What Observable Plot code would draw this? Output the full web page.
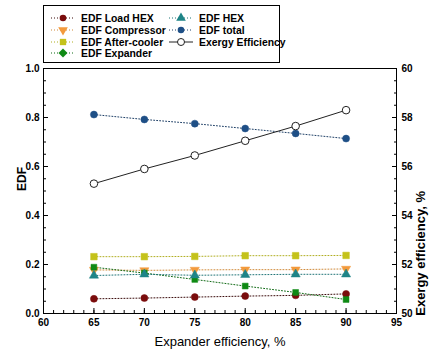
<!DOCTYPE html>
<html><head><meta charset="utf-8">
<script src="https://cdn.jsdelivr.net/npm/d3@7"></script>
<script src="https://cdn.jsdelivr.net/npm/@observablehq/plot@0.6"></script>
<style>
body{margin:0;background:#fff;font-family:"Liberation Sans",Arial,sans-serif}
#wrap{position:relative;width:440px;height:356px}
#legend{position:absolute;left:43px;top:5px;width:237px;height:58px;border:1px solid #000;box-sizing:border-box;background:#fff}
.item{position:absolute;font-size:10.4px;font-weight:bold;display:flex;align-items:center;height:12px;white-space:nowrap}
.item svg{margin-right:5px}
</style>
</head><body><div id="wrap"><div id="legend"></div></div>
<script>
const efficiency = [65, 70, 75, 80, 85, 90];
const edfLoadHex = [0.060, 0.063, 0.067, 0.071, 0.074, 0.080];
const edfCompressor = [0.178, 0.176, 0.178, 0.179, 0.179, 0.182];
const edfAfterCooler = [0.232, 0.232, 0.233, 0.236, 0.236, 0.237];
const edfExpander = [0.189, 0.165, 0.139, 0.112, 0.086, 0.057];
const edfHex = [0.155, 0.160, 0.156, 0.158, 0.160, 0.160];
const edfTotal = [0.812, 0.792, 0.775, 0.755, 0.735, 0.714];
const exergyEfficiency = [55.3, 55.9, 56.45, 57.05, 57.65, 58.3];

const xTicks = [60, 65, 70, 75, 80, 85, 90, 95];
const edfTicks = [0, 0.2, 0.4, 0.6, 0.8, 1.0];
const exergyTicks = [50, 52, 54, 56, 58, 60];

const series = [
  {name: "EDF Load HEX", values: edfLoadHex, color: "#7a0c0c", line: "#3a0a0a", symbol: "circle", rotate: 0, r: 3.5},
  {name: "EDF Compressor", values: edfCompressor, color: "#f39a3c", line: "#d08a3a", symbol: "triangle", rotate: 180, r: 3.4},
  {name: "EDF After-cooler", values: edfAfterCooler, color: "#c4c21a", line: "#b0ae20", symbol: "square", rotate: 0, r: 3.7},
  {name: "EDF Expander", values: edfExpander, color: "#0f8a14", line: "#0f6a14", symbol: "diamond2", rotate: 45, r: 3.7},
  {name: "EDF HEX", values: edfHex, color: "#1e8487", line: "#1e7477", symbol: "triangle", rotate: 0, r: 3.4},
  {name: "EDF total", values: edfTotal, color: "#1e4f86", line: "#1e3f66", symbol: "circle", rotate: 0, r: 3.5}
];

// map exergy efficiency (50..60 %) onto EDF axis (0..1)
const toEdf = v => (v - 50) / 10;
const exergyRows = efficiency.map((x, i) => ({x, y: toEdf(exergyEfficiency[i])}));

const marks = [];
const axisFont = {fontWeight: "bold", fontSize: 10};
marks.push(Plot.frame({stroke: "black"}));
// left axis
marks.push(Plot.axisY(d3.range(0, 1.0001, 0.05), {anchor: "left", tickSize: -3, text: null, label: null}));
marks.push(Plot.axisY(edfTicks, {anchor: "left", tickSize: -5, tickPadding: 9, tickFormat: d3.format(".1f"), label: null, ...axisFont}));
// right axis
marks.push(Plot.axisY(d3.range(0, 1.0001, 0.05), {anchor: "right", tickSize: -3, text: null, label: null}));
marks.push(Plot.axisY(exergyTicks.map(toEdf), {anchor: "right", tickSize: -5, tickPadding: 10, tickFormat: d => String(Math.round(50 + d * 10)), label: null, ...axisFont}));
// bottom axis
marks.push(Plot.axisX(d3.range(60, 95.001, 1), {anchor: "bottom", tickSize: -3, text: null, label: null}));
marks.push(Plot.axisX(xTicks, {anchor: "bottom", tickSize: -5, tickPadding: 10, tickFormat: d => String(d), label: null, ...axisFont}));

// axis titles
marks.push(Plot.text(["EDF"], {frameAnchor: "left", dx: -21, rotate: -90, fontSize: 12, fontWeight: "bold"}));
marks.push(Plot.text(["Exergy efficiency, %"], {frameAnchor: "right", dx: 24, rotate: -90, fontSize: 13, fontWeight: "bold"}));
marks.push(Plot.text(["Expander efficiency, %"], {frameAnchor: "bottom", dy: 32, fontSize: 13}));

for (const s of series) {
  const rows = efficiency.map((x, i) => ({x, y: s.values[i]}));
  marks.push(Plot.line(rows, {x: "x", y: "y", stroke: s.line, strokeWidth: 1, strokeDasharray: "1,2"}));
}
marks.push(Plot.line(exergyRows, {x: "x", y: "y", stroke: "#222", strokeWidth: 1}));
for (const s of series) {
  const rows = efficiency.map((x, i) => ({x, y: s.values[i]}));
  marks.push(Plot.dot(rows, {x: "x", y: "y", symbol: s.symbol, rotate: s.rotate, r: s.r, fill: s.color, stroke: s.color, strokeWidth: 0.5}));
}
marks.push(Plot.dot(exergyRows, {x: "x", y: "y", symbol: "circle", r: 3.8, fill: "white", stroke: "#222", strokeWidth: 1}));

const chart = Plot.plot({
  width: 440, height: 356,
  marginLeft: 43, marginRight: 44, marginTop: 68, marginBottom: 43,
  x: {domain: [60, 95], axis: null},
  y: {domain: [0, 1], axis: null},
  style: {fontFamily: "'Liberation Sans', Arial, sans-serif", color: "black", background: "white"},
  marks
});
document.getElementById("wrap").prepend(chart);

// legend
const legend = document.getElementById("legend");
const legendItems = [...series.map(s => ({...s, dotted: true})), {name: "Exergy Efficiency", color: "#222", line: "#222", symbol: "open", dotted: false}];
const positions = [[6, 6], [6, 18], [6, 30], [6, 41], [124, 6], [124, 18], [124, 30]];
legendItems.forEach((it, i) => {
  const [lx, ly] = positions[i];
  const div = document.createElement("div");
  div.className = "item";
  div.style.left = lx + "px"; div.style.top = ly + "px";
  const svg = d3.create("svg").attr("width", 26).attr("height", 12);
  svg.append("line").attr("x1", 1).attr("x2", 25).attr("y1", 6).attr("y2", 6)
    .attr("stroke", it.line).attr("stroke-width", 1).attr("stroke-dasharray", it.dotted ? "1,2" : null);
  if (it.symbol === "open") {
    svg.append("circle").attr("cx", 13).attr("cy", 6).attr("r", 3.5).attr("fill", "white").attr("stroke", "#222");
  } else {
    const type = {circle: d3.symbolCircle, triangle: d3.symbolTriangle, square: d3.symbolSquare, diamond2: d3.symbolSquare}[it.symbol];
    const size = it.symbol === "circle" ? Math.PI * 3.3 * 3.3 : 40;
    svg.append("path").attr("d", d3.symbol(type, size)())
      .attr("transform", `translate(13,6) rotate(${it.rotate})`).attr("fill", it.color);
  }
  div.appendChild(svg.node());
  const span = document.createElement("span");
  span.textContent = it.name;
  div.appendChild(span);
  legend.appendChild(div);
});
</script>
</body></html>
